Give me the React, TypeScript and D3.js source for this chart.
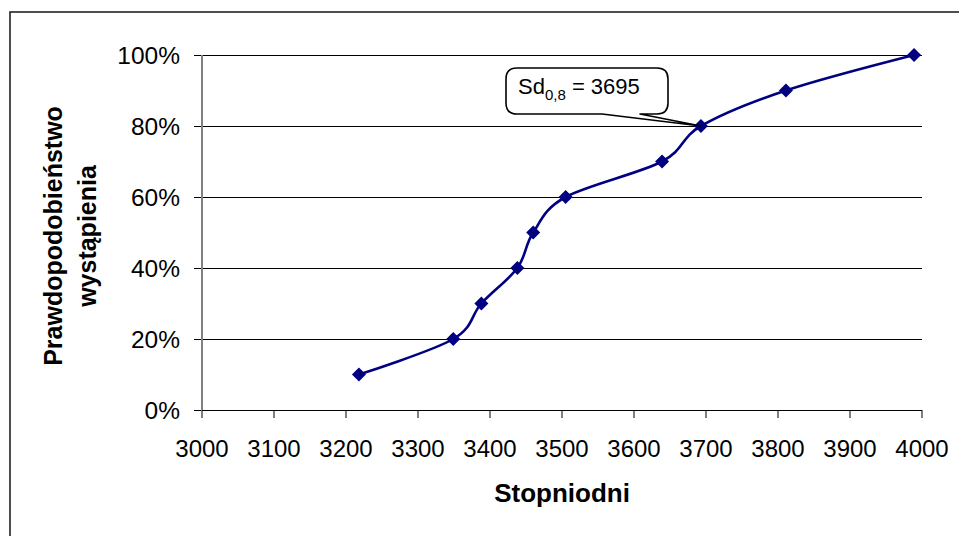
import React from "react";
import * as d3 from "d3";

const degreeDays = [3218, 3349, 3388, 3438, 3460, 3505, 3639, 3693, 3811, 3989];
const probabilities = [0.1, 0.2, 0.3, 0.4, 0.5, 0.6, 0.7, 0.8, 0.9, 1.0];
const xTickValues = [3000, 3100, 3200, 3300, 3400, 3500, 3600, 3700, 3800, 3900, 4000];
const yTickValues = [0, 0.2, 0.4, 0.6, 0.8, 1.0];
const xTitle = "Stopniodni";
const yTitleLines = ["Prawdopodobieństwo", "wystąpienia"];
const calloutIndex = 7;
const calloutMain = "Sd";
const calloutSub = "0,8";
const calloutRest = " = 3695";

const W = 959;
const H = 536;
const plot = { left: 202, right: 922, top: 55, bottom: 410 };
const font = "Arial, 'Liberation Sans', sans-serif";

export default function App() {
  const x = d3.scaleLinear().domain([3000, 4000]).range([plot.left, plot.right]);
  const y = d3.scaleLinear().domain([0, 1]).range([plot.bottom, plot.top]);
  const pts: [number, number][] = degreeDays.map((d, i) => [x(d), y(probabilities[i])]);
  const line = d3.line().curve(d3.curveCatmullRom.alpha(0))(pts) || "";
  const diamond = d3.symbol().type(d3.symbolDiamond2).size(125)() || "";

  // callout box
  const bx0 = 506, bx1 = 668, by0 = 68, by1 = 114, r = 11;
  const [tx, ty] = pts[calloutIndex];
  const callout = [
    `M${bx0 + r},${by0}`,
    `L${bx1 - r},${by0}`,
    `Q${bx1},${by0} ${bx1},${by0 + r}`,
    `L${bx1},${by1 - r}`,
    `Q${bx1},${by1} ${bx1 - r},${by1}`,
    `L640,${by1}`,
    `L${tx},${ty}`,
    `L602,${by1}`,
    `L${bx0 + r},${by1}`,
    `Q${bx0},${by1} ${bx0},${by1 - r}`,
    `L${bx0},${by0 + r}`,
    `Q${bx0},${by0} ${bx0 + r},${by0}`,
    "Z",
  ].join(" ");

  return (
    <svg
      width={W}
      height={H}
      style={{ position: "fixed", left: 0, top: 0, background: "#fff" }}
      fontFamily={font}
    >
      <rect x={0} y={0} width={W} height={H} fill="#fff" />
      <rect x={10} y={12} width={1000} height={600} fill="none" stroke="#222" strokeWidth={1.6} />

      {/* gridlines */}
      {yTickValues.map((t) => (
        <line key={t} x1={plot.left - 8} x2={plot.right} y1={y(t) + 0.5} y2={y(t) + 0.5} stroke="#000" strokeWidth={1} shapeRendering="crispEdges" />
      ))}
      {/* y axis */}
      <line x1={plot.left} x2={plot.left} y1={plot.top} y2={plot.bottom} stroke="#808080" strokeWidth={1.5} shapeRendering="crispEdges" />
      {/* x ticks */}
      {xTickValues.map((t) => (
        <line key={t} x1={x(t)} x2={x(t)} y1={plot.bottom} y2={plot.bottom + 8} stroke="#808080" strokeWidth={1.5} shapeRendering="crispEdges" />
      ))}
      <line x1={plot.left} x2={plot.right} y1={plot.bottom + 0.5} y2={plot.bottom + 0.5} stroke="#000" strokeWidth={1} shapeRendering="crispEdges" />

      {/* y tick labels */}
      {yTickValues.map((t) => (
        <text key={t} x={180} y={y(t)} dy="0.36em" textAnchor="end" fontSize={24.5} fill="#000">
          {d3.format(".0%")(t)}
        </text>
      ))}
      {/* x tick labels */}
      {xTickValues.map((t) => (
        <text key={t} x={x(t)} y={457} textAnchor="middle" fontSize={24} fill="#000">
          {t}
        </text>
      ))}

      {/* axis titles */}
      <text x={(plot.left + plot.right) / 2} y={502} textAnchor="middle" fontSize={26} fontWeight="bold">
        {xTitle}
      </text>
      <g transform={`translate(0,236) rotate(-90)`}>
        <text x={0} y={62} textAnchor="middle" fontSize={25} fontWeight="bold">
          {yTitleLines[0]}
        </text>
        <text x={0} y={96} textAnchor="middle" fontSize={25} fontWeight="bold">
          {yTitleLines[1]}
        </text>
      </g>

      {/* series */}
      <path d={line} fill="none" stroke="#000080" strokeWidth={2.6} />
      {pts.map(([px, py], i) => (
        <path key={i} d={diamond} transform={`translate(${px},${py})`} fill="#000080" />
      ))}

      {/* callout */}
      <path d={callout} fill="#fff" stroke="#000" strokeWidth={1.6} strokeLinejoin="round" />
      <text x={518} y={94} fontSize={22} fill="#000">
        {calloutMain}
        <tspan dy={6} fontSize={15}>{calloutSub}</tspan>
        <tspan dy={-6}>{calloutRest}</tspan>
      </text>
    </svg>
  );
}
